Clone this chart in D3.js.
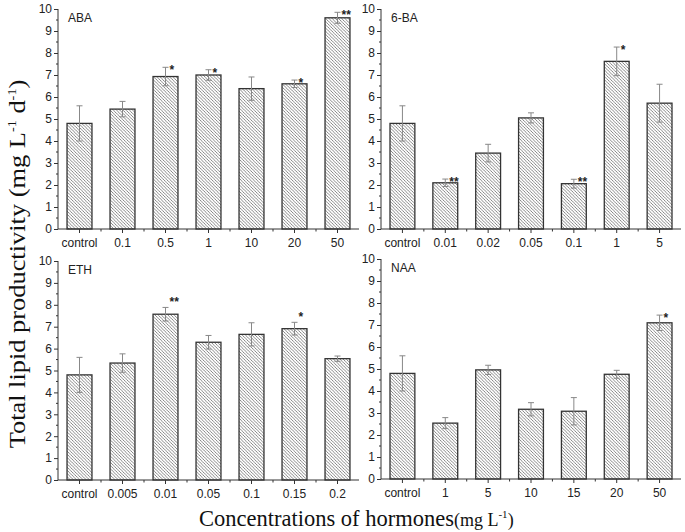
<!DOCTYPE html>
<html><head><meta charset="utf-8">
<script src="https://cdn.jsdelivr.net/npm/d3@7"></script>
<style>body{margin:0;background:#fff}svg{display:block}</style>
</head><body>
<svg id="c" width="685" height="532"></svg>
<script>
// ---- data ----
const abaCats = ["control","0.1","0.5","1","10","20","50"];
const abaVals = [4.8, 5.45, 6.93, 7.0, 6.38, 6.6, 9.6];
const abaErr  = [0.8, 0.35, 0.42, 0.24, 0.53, 0.17, 0.25];
const abaSig  = ["", "", "*", "*", "", "*", "**"];

const baCats = ["control","0.01","0.02","0.05","0.1","1","5"];
const baVals = [4.8, 2.1, 3.45, 5.05, 2.06, 7.62, 5.72];
const baErr  = [0.8, 0.17, 0.4, 0.23, 0.2, 0.65, 0.86];
const baSig  = ["", "**", "", "", "**", "*", ""];

const ethCats = ["control","0.005","0.01","0.05","0.1","0.15","0.2"];
const ethVals = [4.8, 5.34, 7.57, 6.29, 6.65, 6.91, 5.54];
const ethErr  = [0.8, 0.42, 0.31, 0.31, 0.53, 0.29, 0.12];
const ethSig  = ["", "", "**", "", "", "*", ""];

const naaCats = ["control","1","5","10","15","20","50"];
const naaVals = [4.8, 2.54, 4.96, 3.17, 3.08, 4.76, 7.1];
const naaErr  = [0.8, 0.25, 0.21, 0.3, 0.62, 0.18, 0.35];
const naaSig  = ["", "", "", "", "", "", "*"];

const yTicks = [0,1,2,3,4,5,6,7,8,9,10];

const svg = d3.select("#c");
const defs = svg.append("defs");
const pat = defs.append("pattern").attr("id","hatch").attr("patternUnits","userSpaceOnUse")
  .attr("width",3.2).attr("height",3.2);
pat.append("rect").attr("width",3.2).attr("height",3.2).attr("fill","#fff");
pat.append("path").attr("d","M-1,-1 L4.2,4.2 M-1,2.2 L1,4.2 M2.2,-1 L4.2,1")
  .attr("stroke","#6a6a6a").attr("stroke-width",0.8);

function panel(x0, x1, y0, y1, name, cats, vals, errs, sig, starDy) {
  const x = d3.scaleBand().domain(cats).range([x0, x1]).paddingInner(0.42).paddingOuter(0.21);
  const y = d3.scaleLinear().domain([0, 10]).range([y0, y1]);
  const g = svg.append("g");

  g.selectAll("rect.bar").data(cats).enter().append("rect")
    .attr("x", d => x(d)).attr("width", x.bandwidth())
    .attr("y", (d,i) => y(vals[i])).attr("height", (d,i) => y0 - y(vals[i]))
    .attr("fill","url(#hatch)").attr("stroke","#333").attr("stroke-width",1.3);

  cats.forEach((c,i) => {
    const cx = x(c) + x.bandwidth()/2;
    const yt = y(vals[i] + errs[i]), yb = y(vals[i] - errs[i]);
    g.append("line").attr("x1",cx).attr("x2",cx).attr("y1",yt).attr("y2",yb)
      .attr("stroke","#888").attr("stroke-width",1);
    [yt, yb].forEach(yy => g.append("line").attr("x1",cx-3).attr("x2",cx+3).attr("y1",yy).attr("y2",yy)
      .attr("stroke","#888").attr("stroke-width",1));
    if (sig[i]) {
      g.append("text").attr("x", cx + 4).attr("y", yt + starDy)
        .attr("font-family","Liberation Sans, Arial, sans-serif").attr("font-size",12)
        .attr("font-weight","bold").attr("fill","#222").text(sig[i]);
    }
  });

  const ya = g.append("g").attr("transform",`translate(${x0},0)`)
    .call(d3.axisLeft(y).tickValues(yTicks).tickSize(4).tickPadding(2).tickFormat(d3.format("d")));
  ya.select(".domain").attr("stroke","#333").attr("d",`M0,${y0}V${y1}`);
  ya.selectAll(".tick line").attr("stroke","#333");
  ya.selectAll("text").attr("font-family","Liberation Sans, Arial, sans-serif").attr("font-size",12).attr("fill","#222");
  const minorY = d3.range(0.5, 10, 1);
  g.selectAll("line.my").data(minorY).enter().append("line")
    .attr("x1",x0-2).attr("x2",x0).attr("y1",d=>y(d)).attr("y2",d=>y(d)).attr("stroke","#333");

  const xa = g.append("g").attr("transform",`translate(0,${y0})`)
    .call(d3.axisBottom(x).tickSize(4).tickPadding(5));
  xa.select(".domain").attr("stroke","#333").attr("d",`M${x0},0H${x1}`);
  xa.selectAll(".tick line").attr("stroke","#333");
  xa.selectAll("text").attr("font-family","Liberation Sans, Arial, sans-serif").attr("font-size",12).attr("fill","#222");
  const step = x.step();
  const bounds = cats.slice(0, -1).map(c => x(c) + x.bandwidth()/2 + step/2);
  g.selectAll("line.mx").data(bounds).enter().append("line")
    .attr("x1",d=>d).attr("x2",d=>d).attr("y1",y0).attr("y2",y0+2.5).attr("stroke","#333");

  g.append("text").attr("x", x0 + 10).attr("y", y1 + 13)
    .attr("font-family","Liberation Sans, Arial, sans-serif").attr("font-size",12).attr("fill","#222").text(name);
}

panel(58, 359, 229, 9, "ABA", abaCats, abaVals, abaErr, abaSig, 7);
panel(381, 681, 229, 9, "6-BA", baCats, baVals, baErr, baSig, 7);
panel(58, 359, 480, 261, "ETH", ethCats, ethVals, ethErr, ethSig, -1);
panel(381, 681, 479, 259, "NAA", naaCats, naaVals, naaErr, naaSig, 7);

const yt = svg.append("text").attr("transform","translate(25,264) rotate(-90) scale(1.1,1)")
  .attr("text-anchor","middle").attr("font-family","Liberation Serif, Times New Roman, serif")
  .attr("font-size",24).attr("fill","#111");
yt.append("tspan").text("Total lipid productivity (mg L");
yt.append("tspan").attr("font-size",13).attr("dy",-9).text("-1");
yt.append("tspan").attr("dy",9).text(" d");
yt.append("tspan").attr("font-size",13).attr("dy",-9).text("-1");
yt.append("tspan").attr("dy",9).text(")");

const xt = svg.append("text").attr("x",199).attr("y",526)
  .attr("font-family","Liberation Serif, Times New Roman, serif").attr("font-size",22.5).attr("fill","#111");
xt.append("tspan").text("Concentrations of hormones");
xt.append("tspan").attr("font-size",18).text("(mg L");
xt.append("tspan").attr("font-size",11).attr("dy",-8).text("-1");
xt.append("tspan").attr("font-size",18).attr("dy",8).text(")");
</script>
</body></html>
